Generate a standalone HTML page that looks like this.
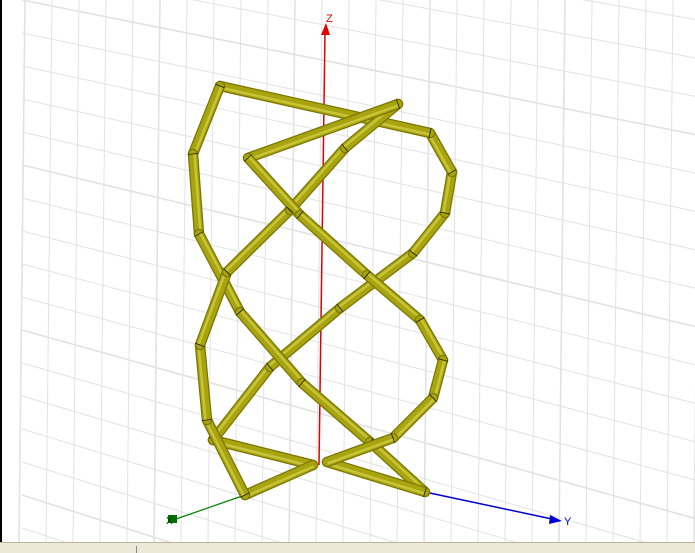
<!DOCTYPE html>
<html><head><meta charset="utf-8"><style>
html,body{margin:0;padding:0;background:#fff;width:695px;height:553px;overflow:hidden;}
svg{display:block;}
text{font-family:"Liberation Sans",sans-serif;}
</style></head><body>
<svg id="chart" width="695" height="553" viewBox="0 0 695 553">
<rect x="0" y="0" width="695" height="553" fill="#ffffff"/>
<g id="grid"></g>
<rect x="0" y="0" width="2" height="542" fill="#000"/>
<g id="axes"></g>
<g id="wires"></g>
<rect x="0" y="542" width="695" height="11" fill="#ece9d8"/>
<line x1="0" y1="542.5" x2="695" y2="542.5" stroke="#b8b4a4"/>
<line x1="136.5" y1="546" x2="136.5" y2="553" stroke="#888"/>
</svg>
<script>
var NS="http://www.w3.org/2000/svg";
// wire A vertices (screen coords of the traced helix arm)
var wireAx=[313,245,207,200,227,290,345,398,248,300,367,420,443,433,393,327];
var wireAy=[465,495,420,345,272,210,148,104,158,215,275,320,360,398,438,462];
// wire B vertices
var wireBx=[313,213,270,340,413,445,452,430,220,193,199,240,302,370,425,327];
var wireBy=[465,440,367,308,253,213,172,133,86,154,234,312,383,442,492,462];

function mk(tag,attrs,parent){var e=document.createElementNS(NS,tag);for(var k in attrs)e.setAttribute(k,attrs[k]);parent.appendChild(e);return e;}

// grid
var grid=document.getElementById('grid');
for(var i=0;i<26;i++){
  var x=22+i*27;
  var l=mk('line',{x1:x+3,y1:0,x2:x-3,y2:542,stroke:'#e2e2e2','stroke-width':(i%5==0?1.6:1)},grid);
  
  
}
for(var j=-4;j<20;j++){
  var y0=j*33;
  var s=0.2+0.008*j;
  var h=mk('line',{x1:22,y1:y0,x2:695,y2:y0+s*673,stroke:'#e2e2e2','stroke-width':(j%5==0?1.6:1)},grid);
  
  
}

// axes
var axes=document.getElementById('axes');
var z=mk('line',{x1:319,y1:465,x2:325,y2:32,stroke:'#e00000','stroke-width':1.5},axes);


var za=mk('polygon',{points:'326,23 321,35 330,35',fill:'#e00000'},axes);


var zt=mk('text',{x:326,y:22,fill:'#e00000','font-size':11},axes);zt.textContent='Z';


var ya=mk('line',{x1:425,y1:492,x2:552,y2:519,stroke:'#0000d0','stroke-width':1.5},axes);


var yh=mk('polygon',{points:'562,521 550,515 549,524',fill:'#0000d0'},axes);


var yt=mk('text',{x:564,y:525,fill:'#0000d0','font-size':11},axes);yt.textContent='Y';


var xa=mk('line',{x1:245,y1:495,x2:176,y2:519,stroke:'#008000','stroke-width':1.2},axes);


var xh=mk('rect',{x:168,y:515,width:9,height:8,fill:'#007000'},axes);


var xt=mk('text',{x:166,y:524,fill:'#004000','font-size':10},axes);xt.textContent='X';



// wires
var wires=document.getElementById('wires');
function drawWire(xs,ys,name){
  var g=mk('g',{},wires);
  
  
  for(var i=0;i<xs.length-1;i++){
    var a=[xs[i],ys[i]],b=[xs[i+1],ys[i+1]];
    var o=mk('line',{x1:a[0],y1:a[1],x2:b[0],y2:b[1],stroke:'#7a7600','stroke-width':10.5,'stroke-linecap':'round'},g);
    
    
    var m=mk('line',{x1:a[0],y1:a[1],x2:b[0],y2:b[1],stroke:'#a8a410','stroke-width':8,'stroke-linecap':'round'},g);
    
    
    var dx=b[0]-a[0],dy=b[1]-a[1],L=Math.sqrt(dx*dx+dy*dy),nx=-dy/L,ny=dx/L;
    var hl=mk('line',{x1:a[0]+nx*-1.5,y1:a[1]+ny*-1.5,x2:b[0]+nx*-1.5,y2:b[1]+ny*-1.5,stroke:'#c8c438','stroke-width':2.5},g);
    
    
  }
  for(var k=1;k<xs.length-1;k++){
    var dx2=xs[k+1]-xs[k],dy2=ys[k+1]-ys[k],L2=Math.sqrt(dx2*dx2+dy2*dy2),px=-dy2/L2*5,py=dx2/L2*5;
    var c=mk('line',{x1:xs[k]+px,y1:ys[k]+py,x2:xs[k]-px,y2:ys[k]-py,stroke:'#1a1a00','stroke-width':0.8},g);
    
    
  }
}
drawWire(wireBx,wireBy,'wire-b');
drawWire(wireAx,wireAy,'wire-a');
</script>
</body></html>
